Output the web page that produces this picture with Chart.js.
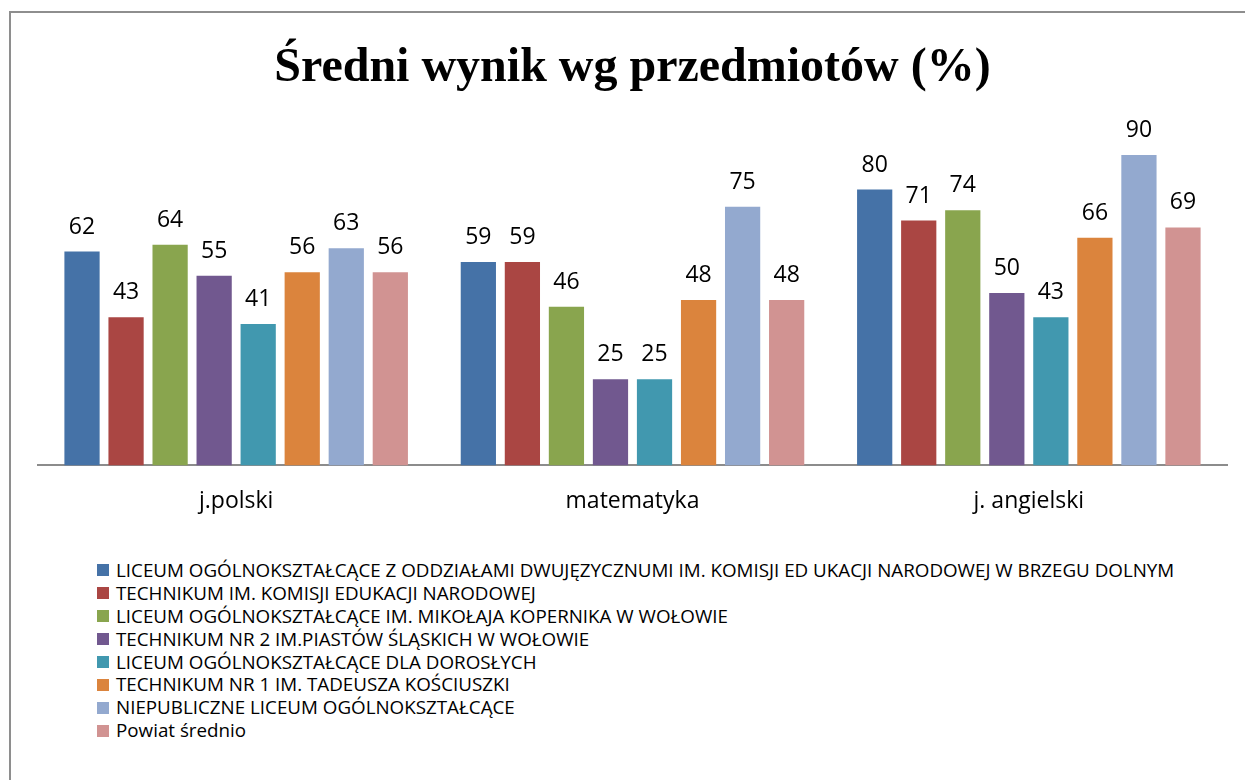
<!DOCTYPE html>
<html>
<head>
<meta charset="utf-8">
<script src="https://cdn.jsdelivr.net/npm/chart.js@4/dist/chart.umd.min.js"></script>
<style>
  html, body { margin: 0; padding: 0; background: #fff; width: 1245px; height: 780px; overflow: hidden; }
  #frame { position: absolute; left: 9px; top: 11px; width: 1400px; height: 900px; border: 2px solid #8e8e8e; box-sizing: border-box; }
  #chart { position: absolute; left: 0; top: 0; }
  #legend { position: absolute; left: 97px; top: 559px; font-family: "Open Sans", sans-serif; font-size: 18.8px; color: #000; }
  #legend .item { height: 22.9px; line-height: 22.9px; white-space: nowrap; display: flex; align-items: center; }
  #legend .box { width: 12px; height: 12px; margin-right: 7px; flex: none; }
</style>
</head>
<body>
<div id="frame"></div>
<canvas id="chart" width="1245" height="543"></canvas>
<div id="legend"></div>
<script>
const categories = ["j.polski", "matematyka", "j. angielski"];
const seriesNames = [
  "LICEUM OGÓLNOKSZTAŁCĄCE Z ODDZIAŁAMI DWUJĘZYCZNUMI IM. KOMISJI ED UKACJI NARODOWEJ W BRZEGU DOLNYM",
  "TECHNIKUM IM. KOMISJI EDUKACJI NARODOWEJ",
  "LICEUM OGÓLNOKSZTAŁCĄCE IM. MIKOŁAJA KOPERNIKA W WOŁOWIE",
  "TECHNIKUM NR 2 IM.PIASTÓW ŚLĄSKICH W WOŁOWIE",
  "LICEUM OGÓLNOKSZTAŁCĄCE DLA DOROSŁYCH",
  "TECHNIKUM NR 1 IM. TADEUSZA KOŚCIUSZKI",
  "NIEPUBLICZNE LICEUM OGÓLNOKSZTAŁCĄCE",
  "Powiat średnio"
];
const loBrzeg     = [62, 59, 80];
const tekKen      = [43, 59, 71];
const loKopernik  = [64, 46, 74];
const tek2        = [55, 25, 50];
const loDorosli   = [41, 25, 43];
const tek1        = [56, 48, 66];
const niepubLO    = [63, 75, 90];
const powiat      = [56, 48, 69];
const seriesValues = [loBrzeg, tekKen, loKopernik, tek2, loDorosli, tek1, niepubLO, powiat];
const titleText = "Średni wynik wg przedmiotów (%)";

const colors = ["#4572A7", "#AA4643", "#89A54E", "#71588F", "#4198AF", "#DB843D", "#93A9CF", "#D19392"];

const datasets = seriesNames.map((name, i) => ({
  label: name,
  data: seriesValues[i],
  backgroundColor: colors[i],
  borderWidth: 0,
  categoryPercentage: 0.889,
  barPercentage: 0.8
}));

const valueLabels = {
  id: "valueLabels",
  afterDatasetsDraw(chart) {
    const ctx = chart.ctx;
    ctx.save();
    ctx.font = "23px 'Open Sans', sans-serif";
    ctx.fillStyle = "#000";
    ctx.textAlign = "center";
    ctx.textBaseline = "alphabetic";
    chart.data.datasets.forEach((ds, di) => {
      const meta = chart.getDatasetMeta(di);
      meta.data.forEach((bar, i) => {
        ctx.fillText(String(ds.data[i]), bar.x, bar.y - 18);
      });
    });
    ctx.restore();
  }
};

const chart = new Chart(document.getElementById("chart"), {
  type: "bar",
  data: { labels: categories, datasets },
  options: {
    responsive: false,
    animation: false,
    layout: { padding: { left: 38, right: 18, top: 0, bottom: 6 } },
    plugins: {
      legend: { display: false },
      tooltip: { enabled: false },
      title: {
        display: true,
        text: titleText,
        color: "#000",
        font: { family: "'Liberation Serif', 'Times New Roman', serif", size: 48, weight: "bold" },
        padding: { top: 40, bottom: 23 }
      }
    },
    scales: {
      x: {
        grid: { display: false, drawTicks: false },
        border: { display: true, color: "#8c8c8c", width: 2 },
        ticks: { color: "#000", font: { family: "'Open Sans', sans-serif", size: 23 }, padding: 22 }
      },
      y: {
        display: false,
        min: 0,
        max: 100
      }
    }
  },
  plugins: [valueLabels]
});

const legend = document.getElementById("legend");
chart.data.datasets.forEach(ds => {
  const item = document.createElement("div");
  item.className = "item";
  const box = document.createElement("span");
  box.className = "box";
  box.style.background = ds.backgroundColor;
  const txt = document.createElement("span");
  txt.textContent = ds.label;
  item.appendChild(box);
  item.appendChild(txt);
  legend.appendChild(item);
});
</script>
</body>
</html>
